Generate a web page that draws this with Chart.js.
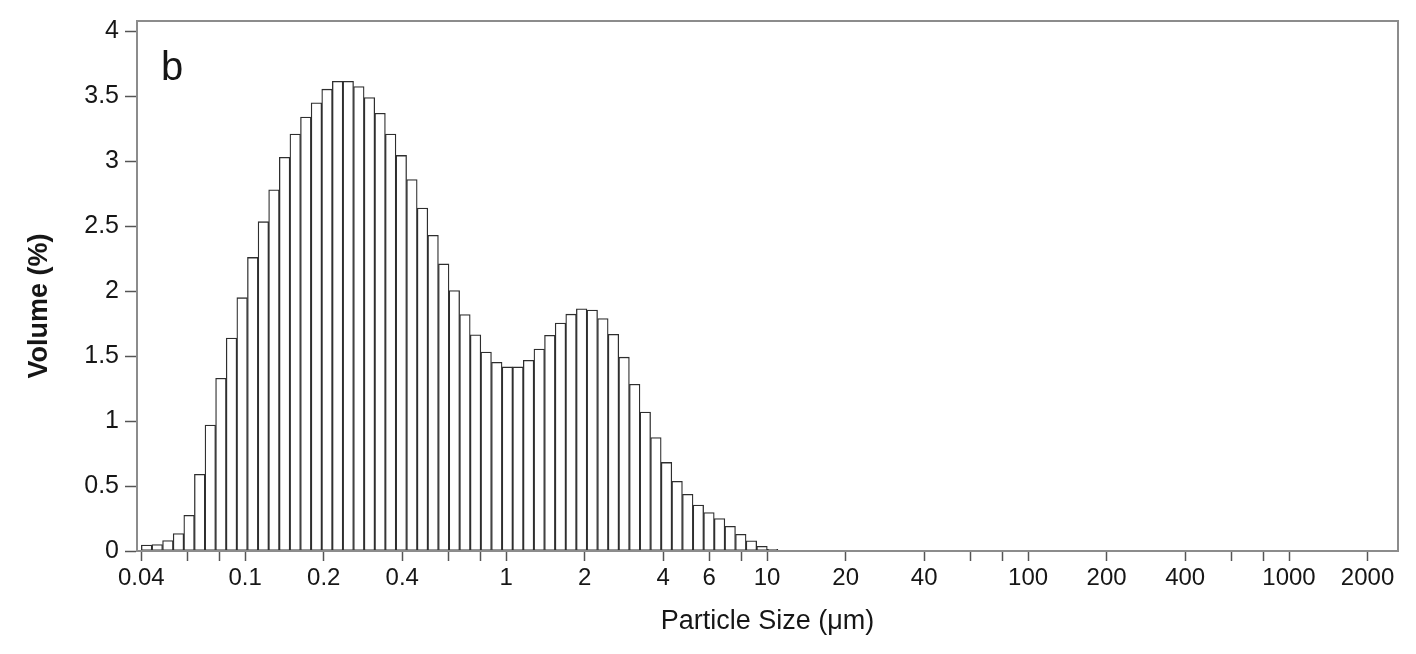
<!DOCTYPE html>
<html>
<head>
<meta charset="utf-8">
<script src="https://cdn.jsdelivr.net/npm/chart.js@4.4.1/dist/chart.umd.min.js"></script>
<style>
  html, body { margin: 0; padding: 0; background: #fff; }
  #wrap { width: 1416px; height: 654px; }
</style>
</head>
<body>
<div id="wrap"><canvas id="c" width="1416" height="654"></canvas></div>
<script>
// channel centres in um (log spaced, 0.04 .. ~10.5)
const sizeUm = [
  0.04192, 0.04603, 0.05055, 0.05551, 0.06096, 0.06694, 0.07351, 0.08072, 0.08864, 0.09734,
  0.1069, 0.1174, 0.1289, 0.1416, 0.1555, 0.1707, 0.1875, 0.2059, 0.2261, 0.2483,
  0.2726, 0.2994, 0.3288, 0.3610, 0.3965, 0.4354, 0.4781, 0.5250, 0.5765, 0.6331,
  0.6952, 0.7635, 0.8384, 0.9207, 1.011, 1.110, 1.219, 1.339, 1.470, 1.615,
  1.773, 1.947, 2.138, 2.348, 2.578, 2.831, 3.109, 3.414, 3.749, 4.117,
  4.521, 4.965, 5.452, 5.987, 6.575, 7.220, 7.929, 8.707, 9.561, 10.50
];
// volume % per channel
const volumePct = [
  0.045, 0.05, 0.08, 0.135, 0.275, 0.59, 0.97, 1.33, 1.64, 1.95,
  2.26, 2.535, 2.78, 3.03, 3.21, 3.34, 3.45, 3.555, 3.615, 3.615,
  3.575, 3.49, 3.37, 3.21, 3.045, 2.86, 2.64, 2.43, 2.21, 2.005,
  1.82, 1.665, 1.532, 1.453, 1.417, 1.417, 1.468, 1.555, 1.66, 1.754,
  1.823, 1.864, 1.855, 1.79, 1.668, 1.492, 1.284, 1.07, 0.873, 0.682,
  0.536, 0.436, 0.353, 0.296, 0.249, 0.19, 0.128, 0.078, 0.036, 0.012
];

const xTickVals = [0.04, 0.06, 0.08, 0.1, 0.2, 0.4, 0.6, 0.8, 1, 2, 4, 6, 8, 10,
  20, 40, 60, 80, 100, 200, 400, 600, 800, 1000, 2000];
const xTickLabels = [0.04, 0.1, 0.2, 0.4, 1, 2, 4, 6, 10, 20, 40, 100, 200, 400, 1000, 2000];
const yTickVals = [0, 0.5, 1, 1.5, 2, 2.5, 3, 3.5, 4];

const FONT = "'Liberation Sans', Arial, sans-serif";
const INK = "#161616";

// gray box round the plot, panel letter and the y title (sits a bit low in the original)
const frame = {
  id: "frame",
  afterDatasetsDraw(chart) {
    const a = chart.chartArea, ctx = chart.ctx;
    ctx.save();
    ctx.strokeStyle = "#8c8c8c";
    ctx.lineWidth = 2;
    ctx.strokeRect(a.left, a.top, a.right - a.left, a.bottom - a.top);
    ctx.fillStyle = INK;
    ctx.font = "40px " + FONT;
    ctx.textBaseline = "alphabetic";
    ctx.fillText("b", a.left + 24, a.top + 59);

    ctx.translate(40, (a.top + a.bottom) / 2 + 20);
    ctx.rotate(-Math.PI / 2);
    ctx.font = "bold 27px " + FONT;
    ctx.textAlign = "center";
    ctx.textBaseline = "middle";
    ctx.fillText("Volume (%)", 0, 0);
    ctx.restore();
  }
};

new Chart(document.getElementById("c"), {
  type: "bar",
  data: {
    datasets: [{
      data: sizeUm.map((x, i) => ({ x: x, y: volumePct[i] })),
      backgroundColor: "#fff",
      borderColor: "#2e2e2e",
      borderWidth: 1.3,
      borderSkipped: false,
      barPercentage: 1,
      categoryPercentage: 1,
    }],
  },
  options: {
    responsive: false, animation: false,
    layout: { padding: { top: 18, right: 18, left: 0, bottom: 0 } },
    plugins: { legend: { display: false }, tooltip: { enabled: false } },
    scales: {
      x: {
        type: "logarithmic", position: "bottom", offset: false,
        min: 0.0385, max: 2616,
        afterBuildTicks: s => { s.ticks = xTickVals.map(v => ({ value: v })); },
        afterFit: s => { s.height = 103; },
        ticks: {
          autoSkip: false, maxRotation: 0, minRotation: 0, padding: 3,
          color: INK, font: { family: FONT, size: 24 },
          callback: v => xTickLabels.includes(v) ? String(v) : "",
        },
        grid: { offset: false, drawOnChartArea: false, tickLength: 10, tickColor: "#555", tickWidth: 1.5 },
        border: { color: "#8c8c8c", width: 2 },
        title: {
          display: true, text: "Particle Size (μm)", color: INK,
          font: { family: FONT, size: 27 }, padding: { top: 0, bottom: 16 },
        },
      },
      y: {
        min: 0, max: 4.08,
        afterBuildTicks: s => { s.ticks = yTickVals.map(v => ({ value: v })); },
        afterFit: s => { s.width = 137; },
        ticks: {
          padding: 6, color: INK, font: { family: FONT, size: 25 },
          callback: v => String(v),
        },
        grid: { drawOnChartArea: false, tickLength: 12, tickColor: "#555", tickWidth: 1.5 },
        border: { color: "#8c8c8c", width: 2 },
      },
    },
  },
  plugins: [frame],
});
</script>
</body>
</html>
